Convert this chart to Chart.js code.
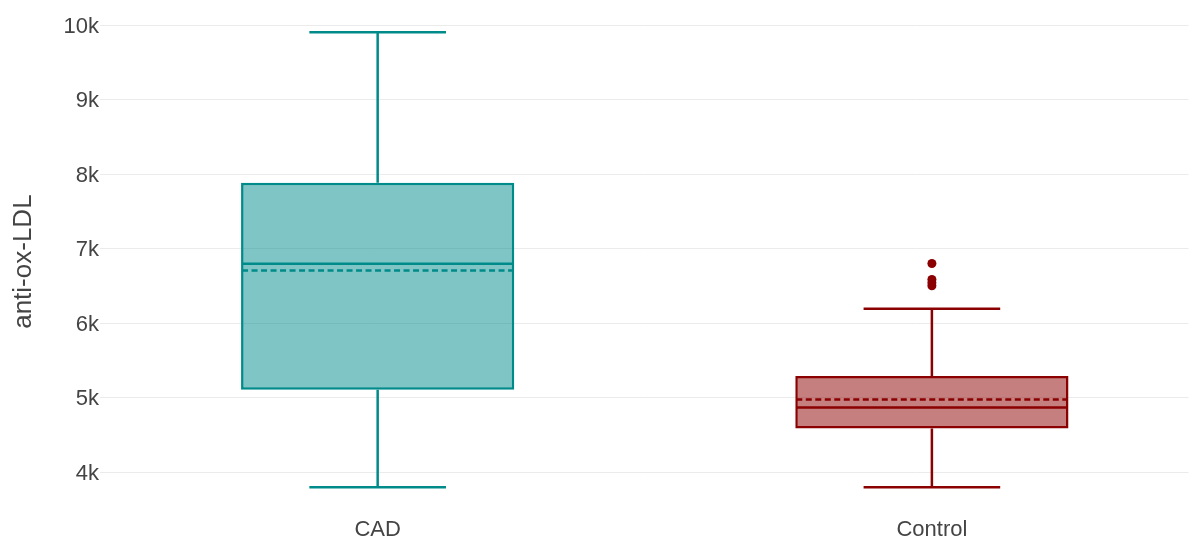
<!DOCTYPE html>
<html>
<head>
<meta charset="utf-8">
<script src="https://cdn.jsdelivr.net/npm/chart.js@4/dist/chart.umd.min.js"></script>
<style>
  html, body { margin:0; padding:0; background:#fff; }
  #wrap { width:1193px; height:538px; position:relative; }
</style>
</head>
<body>
<div id="wrap"><canvas id="boxCanvas"></canvas></div>
<script>
// box plot summary
const CATEGORIES = ['CAD', 'Control'];
const LOWER_FENCE = [3795, 3795];
const Q1          = [5105, 4585];
const MEDIAN      = [6795, 4866];
const MEAN        = [6705, 4974];
const Q3          = [7885, 5290];
const UPPER_FENCE = [9905, 6192];
const CONTROL_OUTLIERS = [6800, 6585, 6540, 6500];
const Y_TICKS = [4000, 5000, 6000, 7000, 8000, 9000, 10000];

const LINE_COLORS = ['#008b8b', '#8b0000'];
const FILL_COLORS = ['rgba(0,139,139,0.5)', 'rgba(139,0,0,0.5)'];

const FONT = '"Liberation Sans", Arial, sans-serif';

// whiskers, caps, median and mean on top of the floating bars
const boxExtras = {
  id: 'boxExtras',
  afterDatasetsDraw(chart) {
    const { ctx, scales: { x, y } } = chart;
    const bars = chart.getDatasetMeta(0).data;
    ctx.save();
    CATEGORIES.forEach((cat, i) => {
      const bar = bars[i];
      const cx = x.getPixelForValue(i);
      const half = bar.width / 2;
      const inner = half - 1;
      ctx.strokeStyle = LINE_COLORS[i];
      ctx.lineWidth = 2.5;
      ctx.setLineDash([]);
      ctx.beginPath();
      // whiskers
      ctx.moveTo(cx, y.getPixelForValue(Q3[i]));
      ctx.lineTo(cx, y.getPixelForValue(UPPER_FENCE[i]));
      ctx.moveTo(cx, y.getPixelForValue(Q1[i]));
      ctx.lineTo(cx, y.getPixelForValue(LOWER_FENCE[i]));
      // caps (half the box width)
      const yu = y.getPixelForValue(UPPER_FENCE[i]);
      const yl = y.getPixelForValue(LOWER_FENCE[i]);
      ctx.moveTo(cx - half / 2, yu); ctx.lineTo(cx + half / 2, yu);
      ctx.moveTo(cx - half / 2, yl); ctx.lineTo(cx + half / 2, yl);
      // median
      const ym = y.getPixelForValue(MEDIAN[i]);
      ctx.moveTo(cx - inner, ym); ctx.lineTo(cx + inner, ym);
      ctx.stroke();
      // mean, dashed
      const ya = y.getPixelForValue(MEAN[i]);
      ctx.setLineDash([6, 3.5]);
      ctx.beginPath();
      ctx.moveTo(cx - inner, ya); ctx.lineTo(cx + inner, ya);
      ctx.stroke();
    });
    ctx.restore();
  }
};

const ctxEl = document.getElementById('boxCanvas');
new Chart(ctxEl.getContext('2d'), {
  type: 'bar',
  data: {
    datasets: [
      {
        label: 'box',
        data: CATEGORIES.map((c, i) => ({ x: i, y: [Q1[i], Q3[i]] })),
        backgroundColor: FILL_COLORS,
        borderColor: LINE_COLORS,
        borderWidth: 2.5,
        borderSkipped: false,
        categoryPercentage: 1,
        barPercentage: 0.493,
      },
      {
        type: 'scatter',
        label: 'outliers',
        data: CONTROL_OUTLIERS.map(v => ({ x: 1, y: v })),
        backgroundColor: LINE_COLORS[1],
        borderColor: LINE_COLORS[1],
        pointRadius: 4.5,
        borderWidth: 0,
      }
    ]
  },
  options: {
    responsive: true,
    maintainAspectRatio: false,
    animation: false,
    layout: { padding: { top: 13, right: 0, left: 0, bottom: 0 } },
    plugins: {
      legend: { display: false },
      tooltip: { enabled: false },
    },
    scales: {
      x: {
        type: 'linear',
        offset: false,
        bounds: 'ticks',
        min: -0.501,
        max: 1.463,
        grid: { display: false, drawTicks: false },
        border: { display: false },
        afterBuildTicks: s => { s.ticks = CATEGORIES.map((c, i) => ({ value: i })); },
        afterFit: s => { s.height = 29; },
        ticks: {
          padding: 8,
          color: '#444',
          font: { family: FONT, size: 22 },
          callback: v => CATEGORIES[v],
        },
      },
      y: {
        min: 3504,
        max: 10147,
        grid: { color: '#ebebeb', lineWidth: 1, drawTicks: false },
        border: { display: false },
        afterBuildTicks: s => { s.ticks = Y_TICKS.map(v => ({ value: v })); },
        afterFit: s => { s.width = 100; },
        ticks: {
          padding: 1,
          labelOffset: 1.5,
          color: '#444',
          font: { family: FONT, size: 22 },
          callback: v => (v / 1000) + 'k',
        },
        title: {
          display: true,
          text: 'anti-ox-LDL',
          color: '#444',
          font: { family: FONT, size: 26 },
          padding: { top: 8, bottom: 0 },
        },
      },
    },
  },
  plugins: [boxExtras],
});
</script>
</body>
</html>
